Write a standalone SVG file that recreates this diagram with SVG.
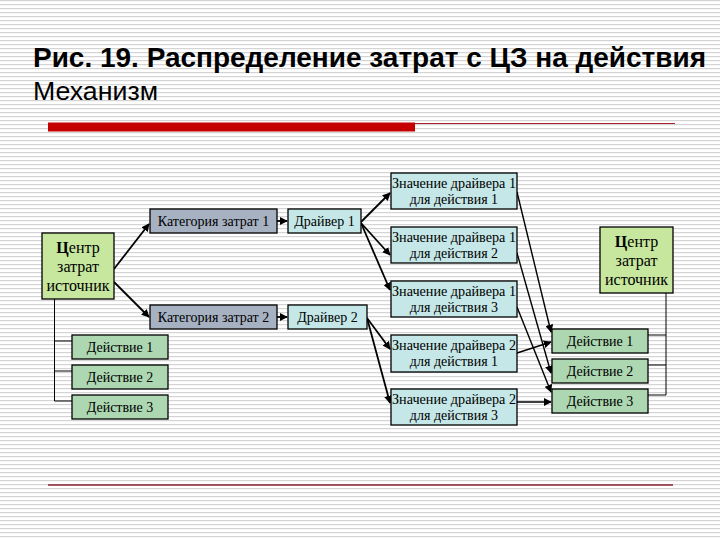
<svg xmlns="http://www.w3.org/2000/svg" width="720" height="540" viewBox="0 0 720 540">
<defs>
<pattern id="stripes" width="8" height="4" patternUnits="userSpaceOnUse">
<rect width="8" height="4" fill="#ffffff"/>
<rect y="0" width="8" height="1.2" fill="#d4d4d4"/>
</pattern>
<marker id="ah" viewBox="0 0 10 10" refX="9" refY="5" markerWidth="8" markerHeight="8" markerUnits="userSpaceOnUse" orient="auto">
<path d="M0,0 L10,5 L0,10 z" fill="#000"/>
</marker>
<style>
.box{stroke:#000;stroke-width:1.3}
.src{fill:#c6e79d}
.cat{fill:#a6b1c1}
.drv{fill:#c5e7e7}
.act{fill:#acd7b1}
.t{font-family:"Liberation Serif","Times New Roman",serif;font-size:14px;fill:#000;text-anchor:middle}
.ts{font-family:"Liberation Serif","Times New Roman",serif;font-size:16px;fill:#000;text-anchor:middle}
.c{stroke:#000;stroke-width:1.8;fill:none}
.c2{stroke:#000;stroke-width:1.4;fill:none}
.br{stroke:#000;stroke-width:1;fill:none}
</style>
</defs>
<rect width="720" height="540" fill="url(#stripes)"/>
<g id="title">
<text x="33" y="67" font-family="'Liberation Sans',Arial,sans-serif" font-weight="bold" font-size="28" textLength="673" lengthAdjust="spacingAndGlyphs">Рис. 19. Распределение затрат с ЦЗ на действия</text>
<text x="33" y="100" font-family="'Liberation Sans',Arial,sans-serif" font-size="26" textLength="125" lengthAdjust="spacingAndGlyphs">Механизм</text>
<rect x="48" y="122.5" width="367" height="9" fill="#c40000"/>
<line x1="415" y1="123.5" x2="675" y2="123.5" stroke="#b02030" stroke-width="1"/>
<line x1="48" y1="485" x2="673" y2="485" stroke="#8a2232" stroke-width="1.5"/>
</g>
<g id="connectors">
<line class="c" x1="114" y1="269" x2="149" y2="224" marker-end="url(#ah)"/>
<line class="c" x1="114" y1="282" x2="149" y2="317" marker-end="url(#ah)"/>
<line class="c" x1="277" y1="221" x2="287" y2="221" marker-end="url(#ah)"/>
<line class="c" x1="277" y1="317" x2="287" y2="317" marker-end="url(#ah)"/>
<line class="c" x1="361" y1="222" x2="390" y2="193" marker-end="url(#ah)"/>
<line class="c" x1="361" y1="223" x2="390" y2="255" marker-end="url(#ah)"/>
<line class="c" x1="361" y1="223" x2="390" y2="290" marker-end="url(#ah)"/>
<line class="c" x1="367" y1="318" x2="390" y2="349" marker-end="url(#ah)"/>
<line class="c" x1="367" y1="318" x2="390" y2="403" marker-end="url(#ah)"/>
<line class="c2" x1="517" y1="192" x2="551" y2="332" marker-end="url(#ah)"/>
<line class="c2" x1="517" y1="253" x2="551" y2="373" marker-end="url(#ah)"/>
<line class="c2" x1="517" y1="307" x2="551" y2="392" marker-end="url(#ah)"/>
<line class="c2" x1="517" y1="353" x2="551" y2="342" marker-end="url(#ah)"/>
<line class="c2" x1="517" y1="402" x2="551" y2="402" marker-end="url(#ah)"/>
<path class="br" d="M54.5,299 V401 M54.5,341 H72 M54.5,371 H72 M54.5,401 H72"/>
<path class="br" d="M666,293 V395 M648,335 H666 M648,365 H666 M648,395 H666"/>
</g>
<g id="src-left">
<rect class="box src" x="42" y="233" width="72" height="66"/>
<text class="ts" x="78" y="253"><tspan font-weight="bold">Ц</tspan>ентр</text>
<text class="ts" x="78" y="272">затрат</text>
<text class="ts" x="78" y="291">источник</text>
</g>
<g id="cat1"><rect class="box cat" x="150" y="209" width="127" height="24"/><text class="t" x="213.5" y="226">Категория затрат 1</text></g>
<g id="cat2"><rect class="box cat" x="150" y="305" width="127" height="24"/><text class="t" x="213.5" y="322">Категория затрат 2</text></g>
<g id="drv1"><rect class="box drv" x="288" y="209" width="73" height="24"/><text class="t" x="324.5" y="226">Драйвер 1</text></g>
<g id="drv2"><rect class="box drv" x="288" y="305" width="79" height="24"/><text class="t" x="327.5" y="322">Драйвер 2</text></g>
<g id="v11"><rect class="box drv" x="391" y="173" width="126" height="36"/><text class="t" x="454" y="188" textLength="124" lengthAdjust="spacingAndGlyphs">Значение драйвера 1</text><text class="t" x="454" y="204">для действия 1</text></g>
<g id="v12"><rect class="box drv" x="391" y="227" width="126" height="36"/><text class="t" x="454" y="242" textLength="124" lengthAdjust="spacingAndGlyphs">Значение драйвера 1</text><text class="t" x="454" y="258">для действия 2</text></g>
<g id="v13"><rect class="box drv" x="391" y="281" width="126" height="36"/><text class="t" x="454" y="296" textLength="124" lengthAdjust="spacingAndGlyphs">Значение драйвера 1</text><text class="t" x="454" y="312">для действия 3</text></g>
<g id="v21"><rect class="box drv" x="391" y="335" width="126" height="37"/><text class="t" x="454" y="350" textLength="124" lengthAdjust="spacingAndGlyphs">Значение драйвера 2</text><text class="t" x="454" y="366">для действия 1</text></g>
<g id="v23"><rect class="box drv" x="391" y="389" width="126" height="36"/><text class="t" x="454" y="404" textLength="124" lengthAdjust="spacingAndGlyphs">Значение драйвера 2</text><text class="t" x="454" y="420">для действия 3</text></g>
<g id="actL1"><rect class="box act" x="72" y="335" width="96" height="24"/><text class="t" x="120" y="352">Действие 1</text></g>
<g id="actL2"><rect class="box act" x="72" y="365" width="96" height="24"/><text class="t" x="120" y="382">Действие 2</text></g>
<g id="actL3"><rect class="box act" x="72" y="395" width="96" height="24"/><text class="t" x="120" y="412">Действие 3</text></g>
<g id="src-right">
<rect class="box src" x="600" y="227" width="73" height="66"/>
<text class="ts" x="636.5" y="247"><tspan font-weight="bold">Ц</tspan>ентр</text>
<text class="ts" x="636.5" y="266">затрат</text>
<text class="ts" x="636.5" y="285">источник</text>
</g>
<g id="actR1"><rect class="box act" x="552" y="329" width="96" height="24"/><text class="t" x="600" y="346">Действие 1</text></g>
<g id="actR2"><rect class="box act" x="552" y="359" width="96" height="24"/><text class="t" x="600" y="376">Действие 2</text></g>
<g id="actR3"><rect class="box act" x="552" y="389" width="96" height="24"/><text class="t" x="600" y="406">Действие 3</text></g>
</svg>
